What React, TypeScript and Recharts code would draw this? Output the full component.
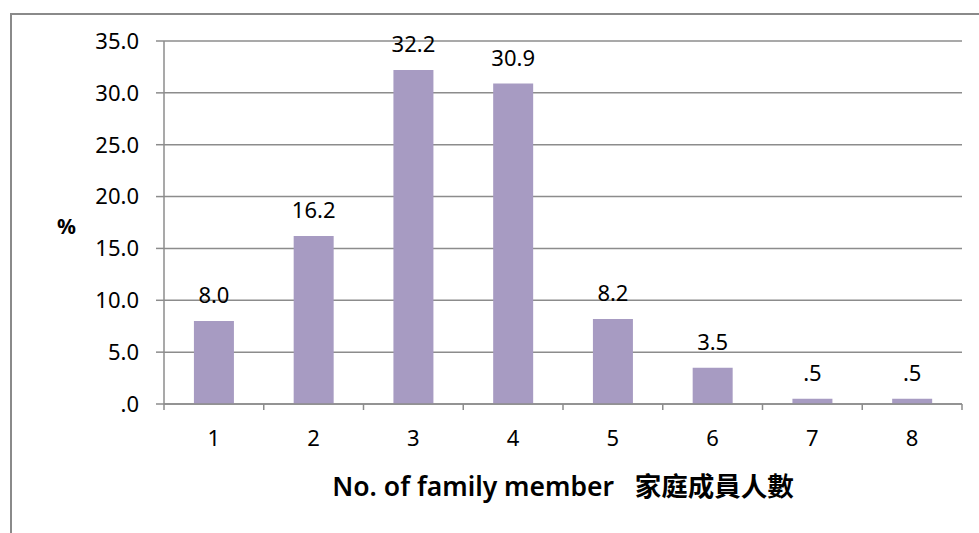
import React from 'react';
import { BarChart, Bar, XAxis, YAxis, CartesianGrid, LabelList } from 'recharts';

const MEMBERS = ['1', '2', '3', '4', '5', '6', '7', '8'];
const PERCENTS = [8.0, 16.2, 32.2, 30.9, 8.2, 3.5, 0.5, 0.5];
const Y_TICKS = [0, 5, 10, 15, 20, 25, 30, 35];

const chartData = MEMBERS.map((m, i) => ({ name: m, value: PERCENTS[i] }));

const FONT = '"Noto Sans", "Noto Sans CJK TC", sans-serif';
const AXIS_GREY = '#8c8c8c';

// Excel style: 0.5 -> ".5", 0 -> ".0"
const fmt = (v: number) => v.toFixed(1).replace(/^0\./, '.');

const XTick = (props: any) => {
    const { x, y, payload, index, visibleTicksCount } = props;
    const band = 798 / MEMBERS.length;
    const left = x - band / 2;
    const isLast = index === visibleTicksCount - 1;
    return (
        <g>
            <line x1={left} y1={y - 8} x2={left} y2={y - 2} stroke={AXIS_GREY} strokeWidth={1.5} />
            {isLast && (
                <line x1={left + band} y1={y - 8} x2={left + band} y2={y - 2} stroke={AXIS_GREY} strokeWidth={1.5} />
            )}
            <text x={x} y={y + 34} textAnchor="middle" fontSize={22} fill="#000" fontFamily={FONT}>
                {payload.value}
            </text>
        </g>
    );
};

const YTitle = (props: any) => {
    const { viewBox } = props;
    const cy = viewBox.y + viewBox.height / 2 + 4;
    return (
        <text x={viewBox.x + 13} y={cy} dy="0.36em" fontSize={21} fontWeight="bold" fill="#000" fontFamily={FONT}>
            %
        </text>
    );
};

const App: React.FC = () => {
    return (
        <div style={{ position: 'absolute', left: 0, top: 0, width: 979, height: 533, overflow: 'hidden', background: '#fff' }}>
            <div
                style={{
                    position: 'absolute',
                    left: 10,
                    top: 13,
                    width: 1000,
                    height: 600,
                    border: '2px solid #8a8a8a',
                    boxSizing: 'border-box',
                }}
            />
            <BarChart
                width={979}
                height={533}
                data={chartData}
                margin={{ top: 41, right: 17, bottom: 29, left: 44 }}
                barCategoryGap="30%"
                style={{ position: 'absolute', left: 0, top: 0, fontFamily: FONT }}
            >
                <CartesianGrid vertical={false} stroke={AXIS_GREY} strokeWidth={1.5} />
                <XAxis
                    dataKey="name"
                    height={100}
                    stroke={AXIS_GREY}
                    strokeWidth={1.5}
                    tickLine={false}
                    interval={0}
                    tick={<XTick />}
                    label={{
                        value: 'No. of family member\u00a0\u00a0\u00a0家庭成員人數',
                        position: 'insideBottom',
                        offset: 8,
                        fontSize: 26.5,
                        fontWeight: 600,
                        fill: '#000',
                    }}
                />
                <YAxis
                    width={120}
                    domain={[0, 35]}
                    ticks={Y_TICKS}
                    tickFormatter={fmt}
                    stroke={AXIS_GREY}
                    strokeWidth={1.5}
                    tickSize={8}
                    tickMargin={17}
                    tick={{ fontSize: 22, fill: '#000' }}
                    label={<YTitle />}
                />
                <Bar dataKey="value" fill="#a79bc2" isAnimationActive={false}>
                    <LabelList
                        dataKey="value"
                        position="top"
                        offset={18}
                        formatter={(v: any) => fmt(Number(v))}
                        fontSize={22}
                        fill="#000"
                    />
                </Bar>
            </BarChart>
        </div>
    );
};

export default App;
